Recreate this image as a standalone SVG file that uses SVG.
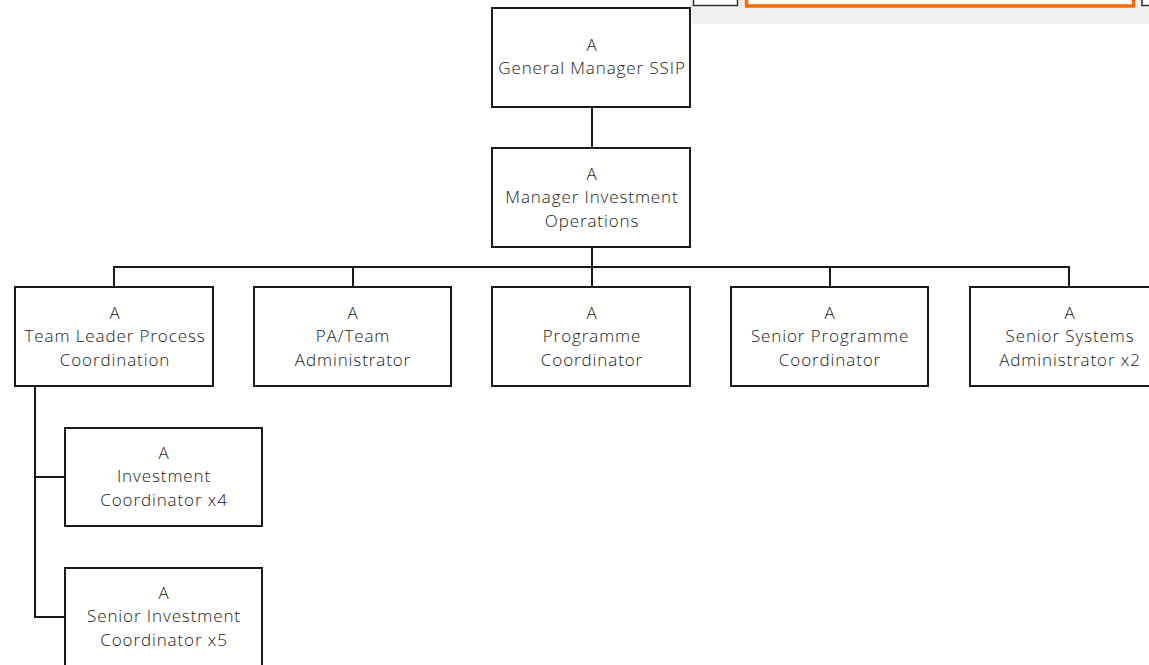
<svg xmlns="http://www.w3.org/2000/svg" width="1149" height="665" viewBox="0 0 1149 665">
  <style>
    .box { fill: #ffffff; stroke: #1a1a1a; stroke-width: 2; }
    .wire { fill: none; stroke: #1a1a1a; stroke-width: 2; }
    .lbl { font-family: "Open Sans", "Liberation Sans", sans-serif; font-size: 17px; font-weight: 300; letter-spacing: 0.9px; fill: #1a1a1a; text-anchor: middle; }
  </style>
  <rect width="1149" height="665" fill="#ffffff"/>

  <!-- toolbar strip along the top edge -->
  <g id="toolbar">
    <rect x="692" y="0" width="457" height="24" fill="#f0f0f0"/>
    <rect x="693.5" y="-2" width="44" height="7.5" fill="#ffffff" stroke="#333333" stroke-width="1.5"/>
    <rect x="746.5" y="-3" width="387" height="9" fill="#ffffff" stroke="#ff6a00" stroke-width="3.5"/>
    <rect x="1142" y="-2" width="12" height="7.5" fill="#ffffff" stroke="#333333" stroke-width="1.5"/>
  </g>

  <!-- connectors -->
  <g id="connectors">
    <path class="wire" d="M592 107 V147"/>
    <path class="wire" d="M592 247 V267"/>
    <path class="wire" d="M114 287 V267 H1069 V287"/>
    <path class="wire" d="M353 267 V287"/>
    <path class="wire" d="M592 267 V287"/>
    <path class="wire" d="M830 267 V287"/>
    <path class="wire" d="M35 386 V617 H65"/>
    <path class="wire" d="M35 477 H65"/>
  </g>

  <g id="general-manager">
    <rect class="box" x="492" y="8" width="198" height="99"/>
    <text class="lbl" x="592" y="51">A</text>
    <text class="lbl" x="592" y="74">General Manager SSIP</text>
  </g>

  <g id="manager-investment-operations">
    <rect class="box" x="492" y="148" width="198" height="99"/>
    <text class="lbl" x="592" y="180">A</text>
    <text class="lbl" x="592" y="203">Manager Investment</text>
    <text class="lbl" x="592" y="227">Operations</text>
  </g>

  <g id="team-leader">
    <rect class="box" x="15" y="287" width="198" height="99"/>
    <text class="lbl" x="115" y="319">A</text>
    <text class="lbl" x="115" y="342">Team Leader Process</text>
    <text class="lbl" x="115" y="366">Coordination</text>
  </g>

  <g id="pa-team-administrator">
    <rect class="box" x="254" y="287" width="197" height="99"/>
    <text class="lbl" x="353" y="319">A</text>
    <text class="lbl" x="353" y="342">PA/Team</text>
    <text class="lbl" x="353" y="366">Administrator</text>
  </g>

  <g id="programme-coordinator">
    <rect class="box" x="492" y="287" width="198" height="99"/>
    <text class="lbl" x="592" y="319">A</text>
    <text class="lbl" x="592" y="342">Programme</text>
    <text class="lbl" x="592" y="366">Coordinator</text>
  </g>

  <g id="senior-programme-coordinator">
    <rect class="box" x="731" y="287" width="197" height="99"/>
    <text class="lbl" x="830" y="319">A</text>
    <text class="lbl" x="830" y="342">Senior Programme</text>
    <text class="lbl" x="830" y="366">Coordinator</text>
  </g>

  <g id="senior-systems-administrator">
    <rect class="box" x="970" y="287" width="198" height="99"/>
    <text class="lbl" x="1070" y="319">A</text>
    <text class="lbl" x="1070" y="342">Senior Systems</text>
    <text class="lbl" x="1070" y="366">Administrator x2</text>
  </g>

  <g id="investment-coordinator">
    <rect class="box" x="65" y="428" width="197" height="98"/>
    <text class="lbl" x="164" y="459">A</text>
    <text class="lbl" x="164" y="482">Investment</text>
    <text class="lbl" x="164" y="506">Coordinator x4</text>
  </g>

  <g id="senior-investment-coordinator">
    <rect class="box" x="65" y="568" width="197" height="110"/>
    <text class="lbl" x="164" y="599">A</text>
    <text class="lbl" x="164" y="622">Senior Investment</text>
    <text class="lbl" x="164" y="646">Coordinator x5</text>
  </g>
</svg>
